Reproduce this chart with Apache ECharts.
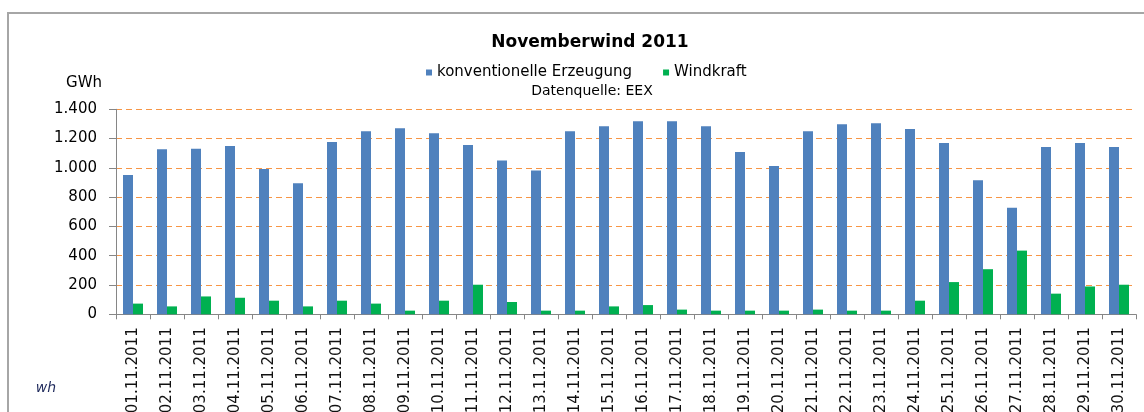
<!DOCTYPE html>
<html>
<head>
<meta charset="utf-8">
<script src="https://cdn.jsdelivr.net/npm/echarts@6/dist/echarts.min.js"></script>
<style>
html,body{margin:0;padding:0;background:#fff;overflow:hidden;}
#chart{width:1144px;height:412px;}
</style>
</head>
<body>
<div id="chart"></div>
<script>
const categories = ["01.11.2011","02.11.2011","03.11.2011","04.11.2011","05.11.2011","06.11.2011","07.11.2011","08.11.2011","09.11.2011","10.11.2011","11.11.2011","12.11.2011","13.11.2011","14.11.2011","15.11.2011","16.11.2011","17.11.2011","18.11.2011","19.11.2011","20.11.2011","21.11.2011","22.11.2011","23.11.2011","24.11.2011","25.11.2011","26.11.2011","27.11.2011","28.11.2011","29.11.2011","30.11.2011"];
const konventionell = [952,1128,1130,1150,992,895,1176,1250,1270,1237,1156,1050,982,1250,1285,1319,1319,1285,1108,1013,1250,1298,1305,1265,1170,916,727,1142,1170,1142];
const windkraft = [73,54,122,113,93,54,93,73,25,93,202,84,25,25,54,63,32,25,25,25,32,25,25,93,220,308,435,141,190,202];
const seriesNames = ["konventionelle Erzeugung","Windkraft"];
const titleText = "Novemberwind 2011";
const sourceText = "Datenquelle: EEX";
const unitText = "GWh";
const footText = "wh";

const font = "DejaVu Sans";
const chart = echarts.init(document.getElementById('chart'));
chart.setOption({
  animation: false,
  backgroundColor: '#ffffff',
  color: ['#4F81BD', '#00B050'],
  graphic: [
    {type:'rect', shape:{x:8, y:13, width:1160, height:430}, style:{fill:'none', stroke:'#A6A6A6', lineWidth:2}, silent:true},
    {type:'text', x:590, y:43, style:{text:titleText, font:'bold 17px "DejaVu Sans"', fill:'#000', textAlign:'center', textVerticalAlign:'middle'}},
    {type:'text', x:592, y:91, style:{text:sourceText, font:'14px "DejaVu Sans"', fill:'#000', textAlign:'center', textVerticalAlign:'middle'}},
    {type:'text', x:84, y:83, style:{text:unitText, font:'15px "DejaVu Sans"', fill:'#000', textAlign:'center', textVerticalAlign:'middle'}},
    {type:'text', x:46, y:388, style:{text:footText, font:'italic 14px "DejaVu Sans"', fill:'#1F2A5C', textAlign:'center', textVerticalAlign:'middle'}}
  ],
  legend: {
    data: seriesNames,
    left: 426, top: 65, padding: 0,
    itemWidth: 6, itemHeight: 6, itemGap: 31, icon: 'rect',
    textStyle: {fontFamily: font, fontSize: 15, color: '#000'}
  },
  grid: {left: 116, right: 8, top: 109.3, bottom: 97.7, containLabel: false, outerBoundsMode: 'none'},
  xAxis: {
    type: 'category',
    data: categories,
    axisLine: {lineStyle: {color: '#868686', width: 1}},
    axisTick: {show: true, length: 5, lineStyle: {color: '#868686'}},
    axisLabel: {interval: 0, rotate: 90, margin: 13, fontFamily: font, fontSize: 15, color: '#111'}
  },
  yAxis: {
    type: 'value',
    min: 0, max: 1400, interval: 200,
    axisLine: {show: true, lineStyle: {color: '#868686', width: 1}},
    axisTick: {show: true, length: 7, lineStyle: {color: '#868686'}},
    axisLabel: {margin: 19, fontFamily: font, fontSize: 15, color: '#000',
      formatter: v => v >= 1000 ? Math.floor(v/1000) + '.' + String(v%1000).padStart(3,'0') : String(v)},
    splitLine: {show: true, lineStyle: {color: '#F79646', type: [6,4], width: 1}}
  },
  series: [
    {name: seriesNames[0], type: 'bar', data: konventionell, barWidth: 10, barGap: '0%',
     itemStyle: {color: '#4F81BD'}},
    {name: seriesNames[1], type: 'bar', data: windkraft, barWidth: 10,
     itemStyle: {color: '#00B050'}}
  ]
});
</script>
</body>
</html>
